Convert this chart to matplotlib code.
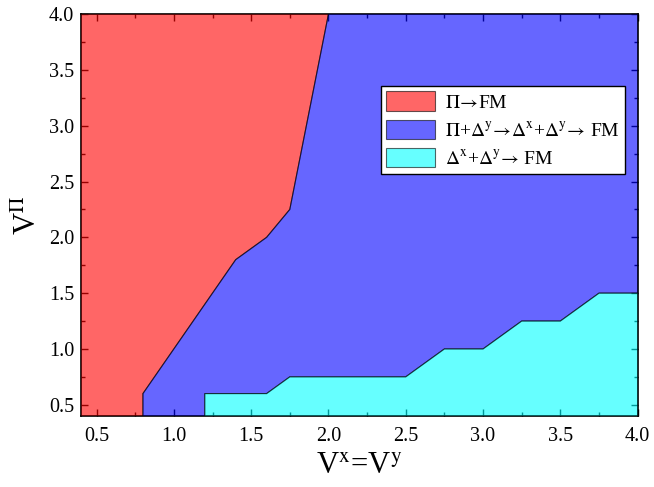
import matplotlib
matplotlib.use("Agg")
import matplotlib.pyplot as plt
from matplotlib.ticker import MultipleLocator

plt.rcParams['font.family'] = ['Liberation Serif', 'DejaVu Serif']
plt.rcParams['mathtext.fontset'] = 'stix'

# Boundary between Pi->FM (red) and the blue phase
red_x = [0.8, 0.8, 1.4, 1.6, 1.75, 2.0]
red_y = [0.4, 0.6, 1.8, 2.0, 2.25, 4.0]

# Upper boundary of cyan phase
cyan_x = [1.2, 1.2, 1.6, 1.75, 2.5, 2.75, 3.0, 3.25, 3.5, 3.75, 4.0]
cyan_y = [0.4, 0.6, 0.6, 0.75, 0.75, 1.0, 1.0, 1.25, 1.25, 1.5, 1.5]

labels = [r'$\Pi\!\rightarrow\!$FM',
          r'$\Pi$+$\Delta^{\mathrm{y}}\!\rightarrow\!\Delta^{\mathrm{x}}$+$\Delta^{\mathrm{y}}\!\rightarrow\,$FM',
          r'$\Delta^{\mathrm{x}}$+$\Delta^{\mathrm{y}}\!\rightarrow\,$FM']
colors = ['#ff0000', '#0000ff', '#00ffff']
xmin, xmax, ymin, ymax = 0.4, 4.0, 0.4, 4.0

fig = plt.figure(figsize=(6.54, 4.87), dpi=100)
ax = fig.add_axes([0.124, 0.146, 0.851, 0.825])

# Red region: left of boundary
rx = [xmin] + red_x + [xmin]
ry = [ymin] + red_y + [ymax]
ax.fill(rx, ry, facecolor=colors[0], edgecolor='k', lw=0.8, alpha=0.6, zorder=3, label=labels[0])
# Blue region: between red and cyan boundaries
bx = cyan_x + [xmax] + red_x[::-1]
by = cyan_y + [ymax] + red_y[::-1]
ax.fill(bx, by, facecolor=colors[1], edgecolor='k', lw=0.8, alpha=0.6, zorder=3, label=labels[1])
# Cyan region
cx = cyan_x + [xmax]
cy = cyan_y + [ymin]
ax.fill(cx, cy, facecolor=colors[2], edgecolor='k', lw=0.8, alpha=0.6, zorder=3, label=labels[2])

ax.set_xlim(xmin, xmax)
ax.set_ylim(ymin, ymax)
ax.xaxis.set_major_locator(MultipleLocator(0.5))
ax.xaxis.set_minor_locator(MultipleLocator(0.25))
ax.yaxis.set_major_locator(MultipleLocator(0.5))
ax.yaxis.set_minor_locator(MultipleLocator(0.25))
ax.tick_params(which='both', direction='in', top=True, right=True, labelsize=14.5, width=1)
ax.tick_params(which='major', length=5)
ax.tick_params(which='minor', length=3)
ax.tick_params(axis='x', pad=8)
ax.tick_params(axis='y', pad=5)
for s in ax.spines.values():
    s.set_linewidth(1.2)

ax.set_xlabel(r'V$^{\mathrm{x}}$=V$^{\mathrm{y}}$', fontsize=22, labelpad=4)
ax.set_ylabel(r'V$^{\Pi}$', fontsize=22, labelpad=4)

leg = ax.legend(loc='upper left',
                bbox_to_anchor=(0.538, 0.822), fontsize=14, fancybox=False, framealpha=1,
                edgecolor='k', handlelength=2.5, handleheight=1.13, borderpad=0.3,
                labelspacing=0.42, handletextpad=0.5, borderaxespad=0)
leg.set_zorder(10)
leg.get_frame().set_linewidth(1.0)

fig.savefig('out.png', dpi=100)
